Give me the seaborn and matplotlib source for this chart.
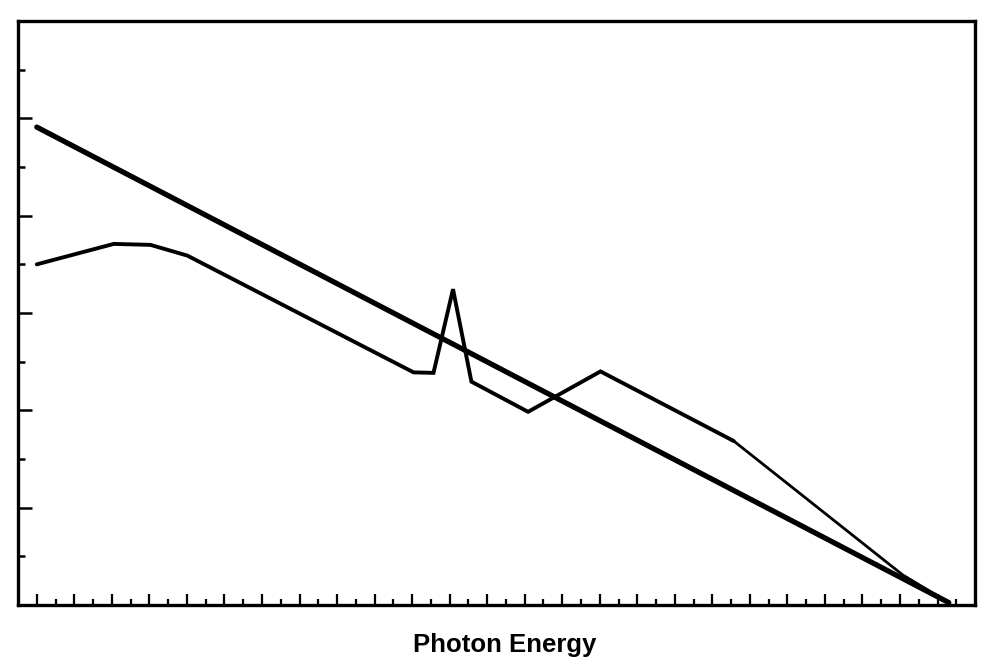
import numpy as np
import pandas as pd
import matplotlib
matplotlib.use("Agg")
import matplotlib.pyplot as plt
from matplotlib.ticker import FixedLocator, NullFormatter
import seaborn as sns

# Photon energy (arbitrary units) and intensity (arbitrary log units)
continuum_energy = [0.0, 24.3]
continuum_level = [9.82, 0.05]

spectrum_energy = [0.0, 2.05, 3.03, 4.01, 10.04, 10.57, 11.09, 11.58, 13.09, 15.02, 18.57]
spectrum_level = [7.00, 7.42, 7.40, 7.18, 4.78, 4.77, 6.49, 4.59, 3.97, 4.80, 3.37]

tail_energy = [18.57, 23.07, 24.3]
tail_level = [3.37, 0.62, 0.05]

x_label = "Photon Energy"

sns.set_style("white")
plt.rcParams["font.family"] = ["Liberation Sans", "DejaVu Sans"]

fig = plt.figure(figsize=(9.86, 6.65), dpi=100)
ax = fig.add_axes([0.0183, 0.0902, 0.9706, 0.8782])

continuum = pd.DataFrame({"energy": continuum_energy, "level": continuum_level})
spectrum = pd.DataFrame({"energy": spectrum_energy, "level": spectrum_level})
tail = pd.DataFrame({"energy": tail_energy, "level": tail_level})

sns.lineplot(data=continuum, x="energy", y="level", ax=ax, color="black",
             linewidth=3.8, sort=False, estimator=None, solid_capstyle="round")
sns.lineplot(data=spectrum, x="energy", y="level", ax=ax, color="black",
             linewidth=2.8, sort=False, estimator=None, solid_joinstyle="miter")
sns.lineplot(data=tail, x="energy", y="level", ax=ax, color="black",
             linewidth=2.0, sort=False, estimator=None)

ax.set_xlim(-0.5, 25)
ax.set_ylim(0, 12)

ax.xaxis.set_major_locator(FixedLocator(np.arange(0, 25, 1)))
ax.xaxis.set_minor_locator(FixedLocator(np.arange(0.5, 25, 1)))
ax.yaxis.set_major_locator(FixedLocator(np.arange(2, 12, 2)))
ax.yaxis.set_minor_locator(FixedLocator(np.arange(1, 12, 2)))
for axis in (ax.xaxis, ax.yaxis):
    axis.set_major_formatter(NullFormatter())
    axis.set_minor_formatter(NullFormatter())

ax.tick_params(axis="both", which="both", direction="in", color="black",
               bottom=True, left=True, top=False, right=False)
ax.tick_params(axis="x", which="major", length=8, width=1.6)
ax.tick_params(axis="x", which="minor", length=4, width=1.6)
ax.tick_params(axis="y", which="major", length=10, width=1.8)
ax.tick_params(axis="y", which="minor", length=5, width=1.8)

for side in ax.spines.values():
    side.set_visible(True)
    side.set_color("black")
    side.set_linewidth(2.4)

ax.set_xlabel(x_label, fontsize=18.5, fontweight="bold", color="black")
ax.set_ylabel("")
ax.xaxis.set_label_coords((505 - 18) / 957, -(645 - 605) / 584)
ax.xaxis.label.set_verticalalignment("center")

fig.savefig("out.png", dpi=100, facecolor="white")
